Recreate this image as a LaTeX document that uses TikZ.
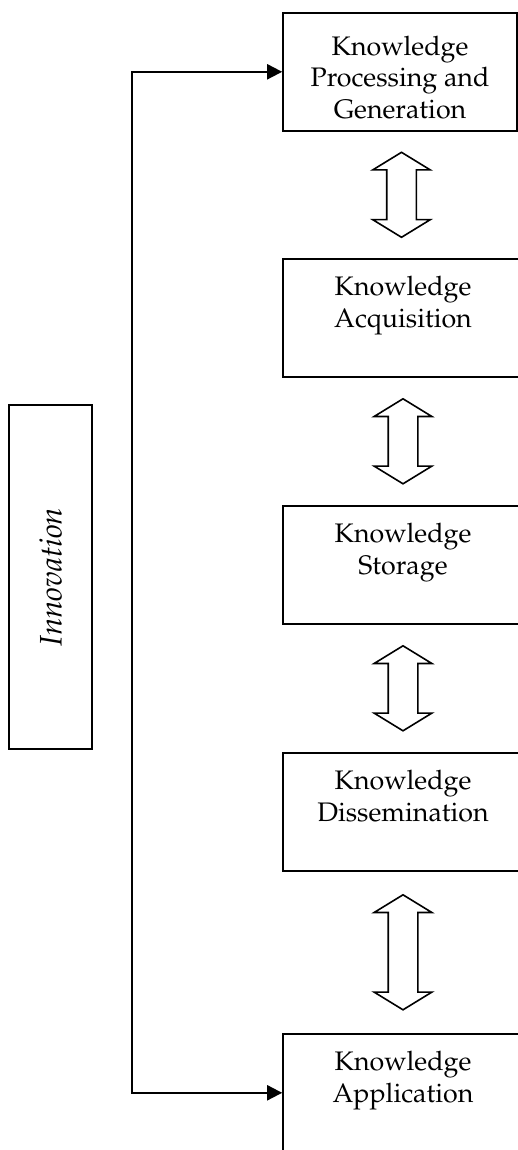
\documentclass[tikz,border=0pt]{standalone}
\usepackage[T1]{fontenc}
\usepackage{mathpazo}
\usetikzlibrary{arrows.meta,calc,shapes.arrows}

\begin{document}
\begin{tikzpicture}[x=0.5pt,y=-0.5pt,
    kbox/.style={draw, line width=0.8pt, inner sep=0pt, minimum width=120pt, align=center,
        font=\fontsize{13.4}{15.6}\selectfont, text height=34.1pt, text depth=24.9pt, anchor=north},
    both/.style={draw, line width=0.8pt, shape=double arrow, rotate=90, inner xsep=0pt, inner ysep=7pt,
        double arrow head extend=7pt, double arrow tip angle=117},
    flow/.style={line width=1pt, {Triangle[length=7.5pt,width=7.5pt]}-{Triangle[length=7.5pt,width=7.5pt]}}]
\useasboundingbox (0,0) rectangle (518,1150);
% stages
    \node[kbox, minimum width=117pt, text height=52.7pt, text depth=6.3pt] (kpg) at (400,12) {Knowledge\\Processing and\\Generation};
    \node[kbox] (kac) at (403,258) {Knowledge\\Acquisition};
    \node[kbox] (kst) at (403,505) {Knowledge\\Storage};
    \node[kbox] (kdi) at (403,752) {Knowledge\\Dissemination};
    \node[kbox] (kap) at (403,1033) {Knowledge\\Application};
% links between stages
    \foreach \a/\b/\l in {kpg/kac/42.5,kac/kst/42.5,kst/kdi/42.5,kdi/kap/57.5}{
        \node[both, minimum height=\l pt] (\a-\b) at ($(\a.south)!0.5!(\b.north)$) {};
    }
% innovation
    \node[draw, line width=0.8pt, rotate=90, minimum width=172pt, minimum height=41.5pt,
        font=\fontsize{15.6}{18}\selectfont\itshape] (inno) at (50.5,577) {Innovation};
    \coordinate (spine) at (132,0);
    \draw[flow] (kpg.west) -- (kpg.west -| spine) -- (kap.west -| spine) -- (kap.west);
\end{tikzpicture}
\end{document}
